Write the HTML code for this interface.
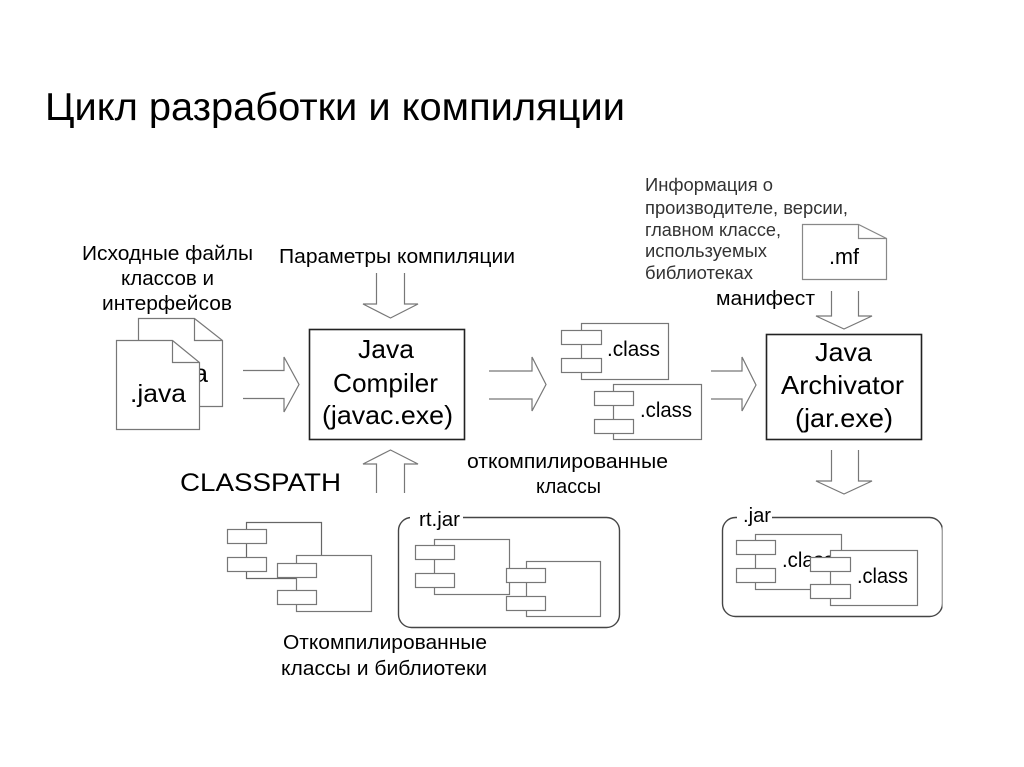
<!DOCTYPE html>
<html><head><meta charset="utf-8"><style>
html,body{margin:0;padding:0;background:#fff}
svg{display:block}
text{font-family:"Liberation Sans",sans-serif;fill:#000}
.d{filter:url(#b)}
</style></head><body>
<svg width="1024" height="767" viewBox="0 0 1024 767" xmlns="http://www.w3.org/2000/svg">
<defs><filter id="b" x="0" y="0" width="100%" height="100%"><feGaussianBlur stdDeviation="0.3"/></filter></defs>
<rect width="1024" height="767" fill="#fff"/>
<text x="45" y="120" font-size="39" textLength="580" lengthAdjust="spacingAndGlyphs" style="fill:#000">Цикл разработки и компиляции</text>
<g class="d">
<!-- source docs -->
<g fill="#fff" stroke="#777" stroke-width="1.2">
<path d="M138.5 318.5H194.5L222.5 340.5V406.5H138.5Z"/><path d="M194.5 318.5V340.5H222.5" fill="none"/>
</g>
<text x="152" y="382" font-size="25" textLength="56" lengthAdjust="spacingAndGlyphs">.java</text>
<g fill="#fff" stroke="#777" stroke-width="1.2">
<path d="M116.5 340.5H172.5L199.5 362.5V429.5H116.5Z"/><path d="M172.5 340.5V362.5H199.5" fill="none"/>
</g>
<text x="130" y="402" font-size="25" textLength="56" lengthAdjust="spacingAndGlyphs">.java</text>
<!-- source label -->
<g font-size="20" text-anchor="start">
<text x="82" y="260" textLength="171" lengthAdjust="spacingAndGlyphs">Исходные файлы</text>
<text x="121" y="285" textLength="93" lengthAdjust="spacingAndGlyphs">классов и</text>
<text x="102" y="310" textLength="130" lengthAdjust="spacingAndGlyphs">интерфейсов</text>
<text x="279" y="263" textLength="236" lengthAdjust="spacingAndGlyphs">Параметры компиляции</text>
<text x="716" y="305" textLength="99" lengthAdjust="spacingAndGlyphs">манифест</text>
<text x="467" y="468" textLength="201" lengthAdjust="spacingAndGlyphs">откомпилированные</text>
<text x="536" y="493" textLength="65" lengthAdjust="spacingAndGlyphs">классы</text>
<text x="283" y="649" textLength="204" lengthAdjust="spacingAndGlyphs">Откомпилированные</text>
<text x="281" y="675" textLength="206" lengthAdjust="spacingAndGlyphs">классы и библиотеки</text>
</g>
<!-- info -->
<g font-size="18">
<text x="645" y="191" textLength="128" lengthAdjust="spacingAndGlyphs" style="fill:#333">Информация о</text>
<text x="645" y="214" textLength="203" lengthAdjust="spacingAndGlyphs" style="fill:#333">производителе, версии,</text>
<text x="645" y="236" textLength="136" lengthAdjust="spacingAndGlyphs" style="fill:#333">главном классе,</text>
<text x="645" y="257" textLength="122" lengthAdjust="spacingAndGlyphs" style="fill:#333">используемых</text>
<text x="645" y="279" textLength="108" lengthAdjust="spacingAndGlyphs" style="fill:#333">библиотеках</text>
</g>
<!-- mf doc -->
<g fill="#fff" stroke="#888" stroke-width="1.2">
<path d="M802.5 224.5H858.5L886.5 238.5V279.5H802.5Z"/><path d="M858.5 224.5V238.5H886.5" fill="none"/>
</g>
<text x="829" y="264" font-size="22" textLength="30" lengthAdjust="spacingAndGlyphs">.mf</text>
<!-- arrows -->
<g fill="none" stroke="#777" stroke-width="1.2">
<path d="M243 370.5H284V357L299 384.5L284 412V398.5H243"/>
<path d="M489 371H532V357L546 384.5L532 411V399H489"/>
<path d="M711 371H742V357L756 385L742 411V399H711"/>
<path d="M376.5 273V304H363L390.5 318L418 304H404.5V273"/>
<path d="M831.5 291V316H816L844 329L872 316H858.5V291"/>
<path d="M831.5 450V481H816L844 494L872 481H858.5V450"/>
<path d="M376.5 493V464H363L390.5 450L418 464H404.5V493"/>
</g>
<!-- main boxes -->
<rect x="309.5" y="329.5" width="155" height="110" fill="#fff" stroke="#222" stroke-width="1.6"/>
<g font-size="26">
<text x="358" y="358" textLength="56" lengthAdjust="spacingAndGlyphs">Java</text>
<text x="333" y="392" textLength="105" lengthAdjust="spacingAndGlyphs">Compiler</text>
<text x="322" y="424" textLength="131" lengthAdjust="spacingAndGlyphs">(javac.exe)</text>
</g>
<rect x="766.5" y="334.5" width="155" height="105" fill="#fff" stroke="#222" stroke-width="1.6"/>
<g font-size="26">
<text x="815" y="361" textLength="57" lengthAdjust="spacingAndGlyphs">Java</text>
<text x="781" y="394" textLength="123" lengthAdjust="spacingAndGlyphs">Archivator</text>
<text x="795" y="427" textLength="98" lengthAdjust="spacingAndGlyphs">(jar.exe)</text>
</g>
<!-- class components -->
<g fill="#fff" stroke="#777" stroke-width="1.2">
<rect x="581.5" y="323.5" width="87" height="56"/>
<rect x="561.5" y="330.5" width="40" height="14"/>
<rect x="561.5" y="358.5" width="40" height="14"/>
<rect x="613.5" y="384.5" width="88" height="55"/>
<rect x="594.5" y="391.5" width="39" height="14"/>
<rect x="594.5" y="419.5" width="39" height="14"/>
</g>
<text x="607" y="356" font-size="21" textLength="53" lengthAdjust="spacingAndGlyphs">.class</text>
<text x="640" y="417" font-size="21" textLength="52" lengthAdjust="spacingAndGlyphs">.class</text>
<text x="180" y="491" font-size="25" textLength="161" lengthAdjust="spacingAndGlyphs">CLASSPATH</text>
<!-- left comps -->
<g fill="none" stroke="#666" stroke-width="1.2">
<path d="M246.5 529V522.5H321.5V555"/>
<path d="M246.5 543V557M246.5 571V578.5H296"/>
</g>
<g fill="#fff" stroke="#777" stroke-width="1.2">
<rect x="227.5" y="529.5" width="39" height="14"/>
<rect x="227.5" y="557.5" width="39" height="14"/>
<rect x="296.5" y="555.5" width="75" height="56"/>
<rect x="277.5" y="563.5" width="39" height="14"/>
<rect x="277.5" y="590.5" width="39" height="14"/>
</g>
<!-- rt.jar -->
<rect x="398.5" y="517.5" width="221" height="110" rx="13" fill="#fff" stroke="#444" stroke-width="1.4"/>
<rect x="410" y="510" width="53" height="14" fill="#fff"/>
<text x="419" y="526" font-size="20" textLength="41" lengthAdjust="spacingAndGlyphs">rt.jar</text>
<g fill="#fff" stroke="#777" stroke-width="1.2">
<rect x="434.5" y="539.5" width="75" height="55" fill="none"/>
<rect x="415.5" y="545.5" width="39" height="14"/>
<rect x="415.5" y="573.5" width="39" height="14"/>
<rect x="526.5" y="561.5" width="74" height="55"/>
<rect x="506.5" y="568.5" width="39" height="14"/>
<rect x="506.5" y="596.5" width="39" height="14"/>
</g>
<!-- .jar -->
<rect x="722.5" y="517.5" width="220" height="99" rx="13" fill="#fff" stroke="#444" stroke-width="1.4"/>
<rect x="737" y="510" width="35" height="14" fill="#fff"/>
<text x="743" y="522" font-size="20" textLength="28" lengthAdjust="spacingAndGlyphs">.jar</text>
<g fill="#fff" stroke="#777" stroke-width="1.2">
<rect x="755.5" y="534.5" width="86" height="55"/>
<rect x="736.5" y="540.5" width="39" height="14"/>
<rect x="736.5" y="568.5" width="39" height="14"/>
</g>
<text x="782" y="567" font-size="21" textLength="52" lengthAdjust="spacingAndGlyphs">.class</text>
<g fill="#fff" stroke="#777" stroke-width="1.2">
<rect x="830.5" y="550.5" width="87" height="55"/>
<rect x="810.5" y="557.5" width="40" height="14"/>
<rect x="810.5" y="584.5" width="40" height="14"/>
</g>
<text x="857" y="583" font-size="21" textLength="51" lengthAdjust="spacingAndGlyphs">.class</text>
</g>
</svg>
</body></html>
